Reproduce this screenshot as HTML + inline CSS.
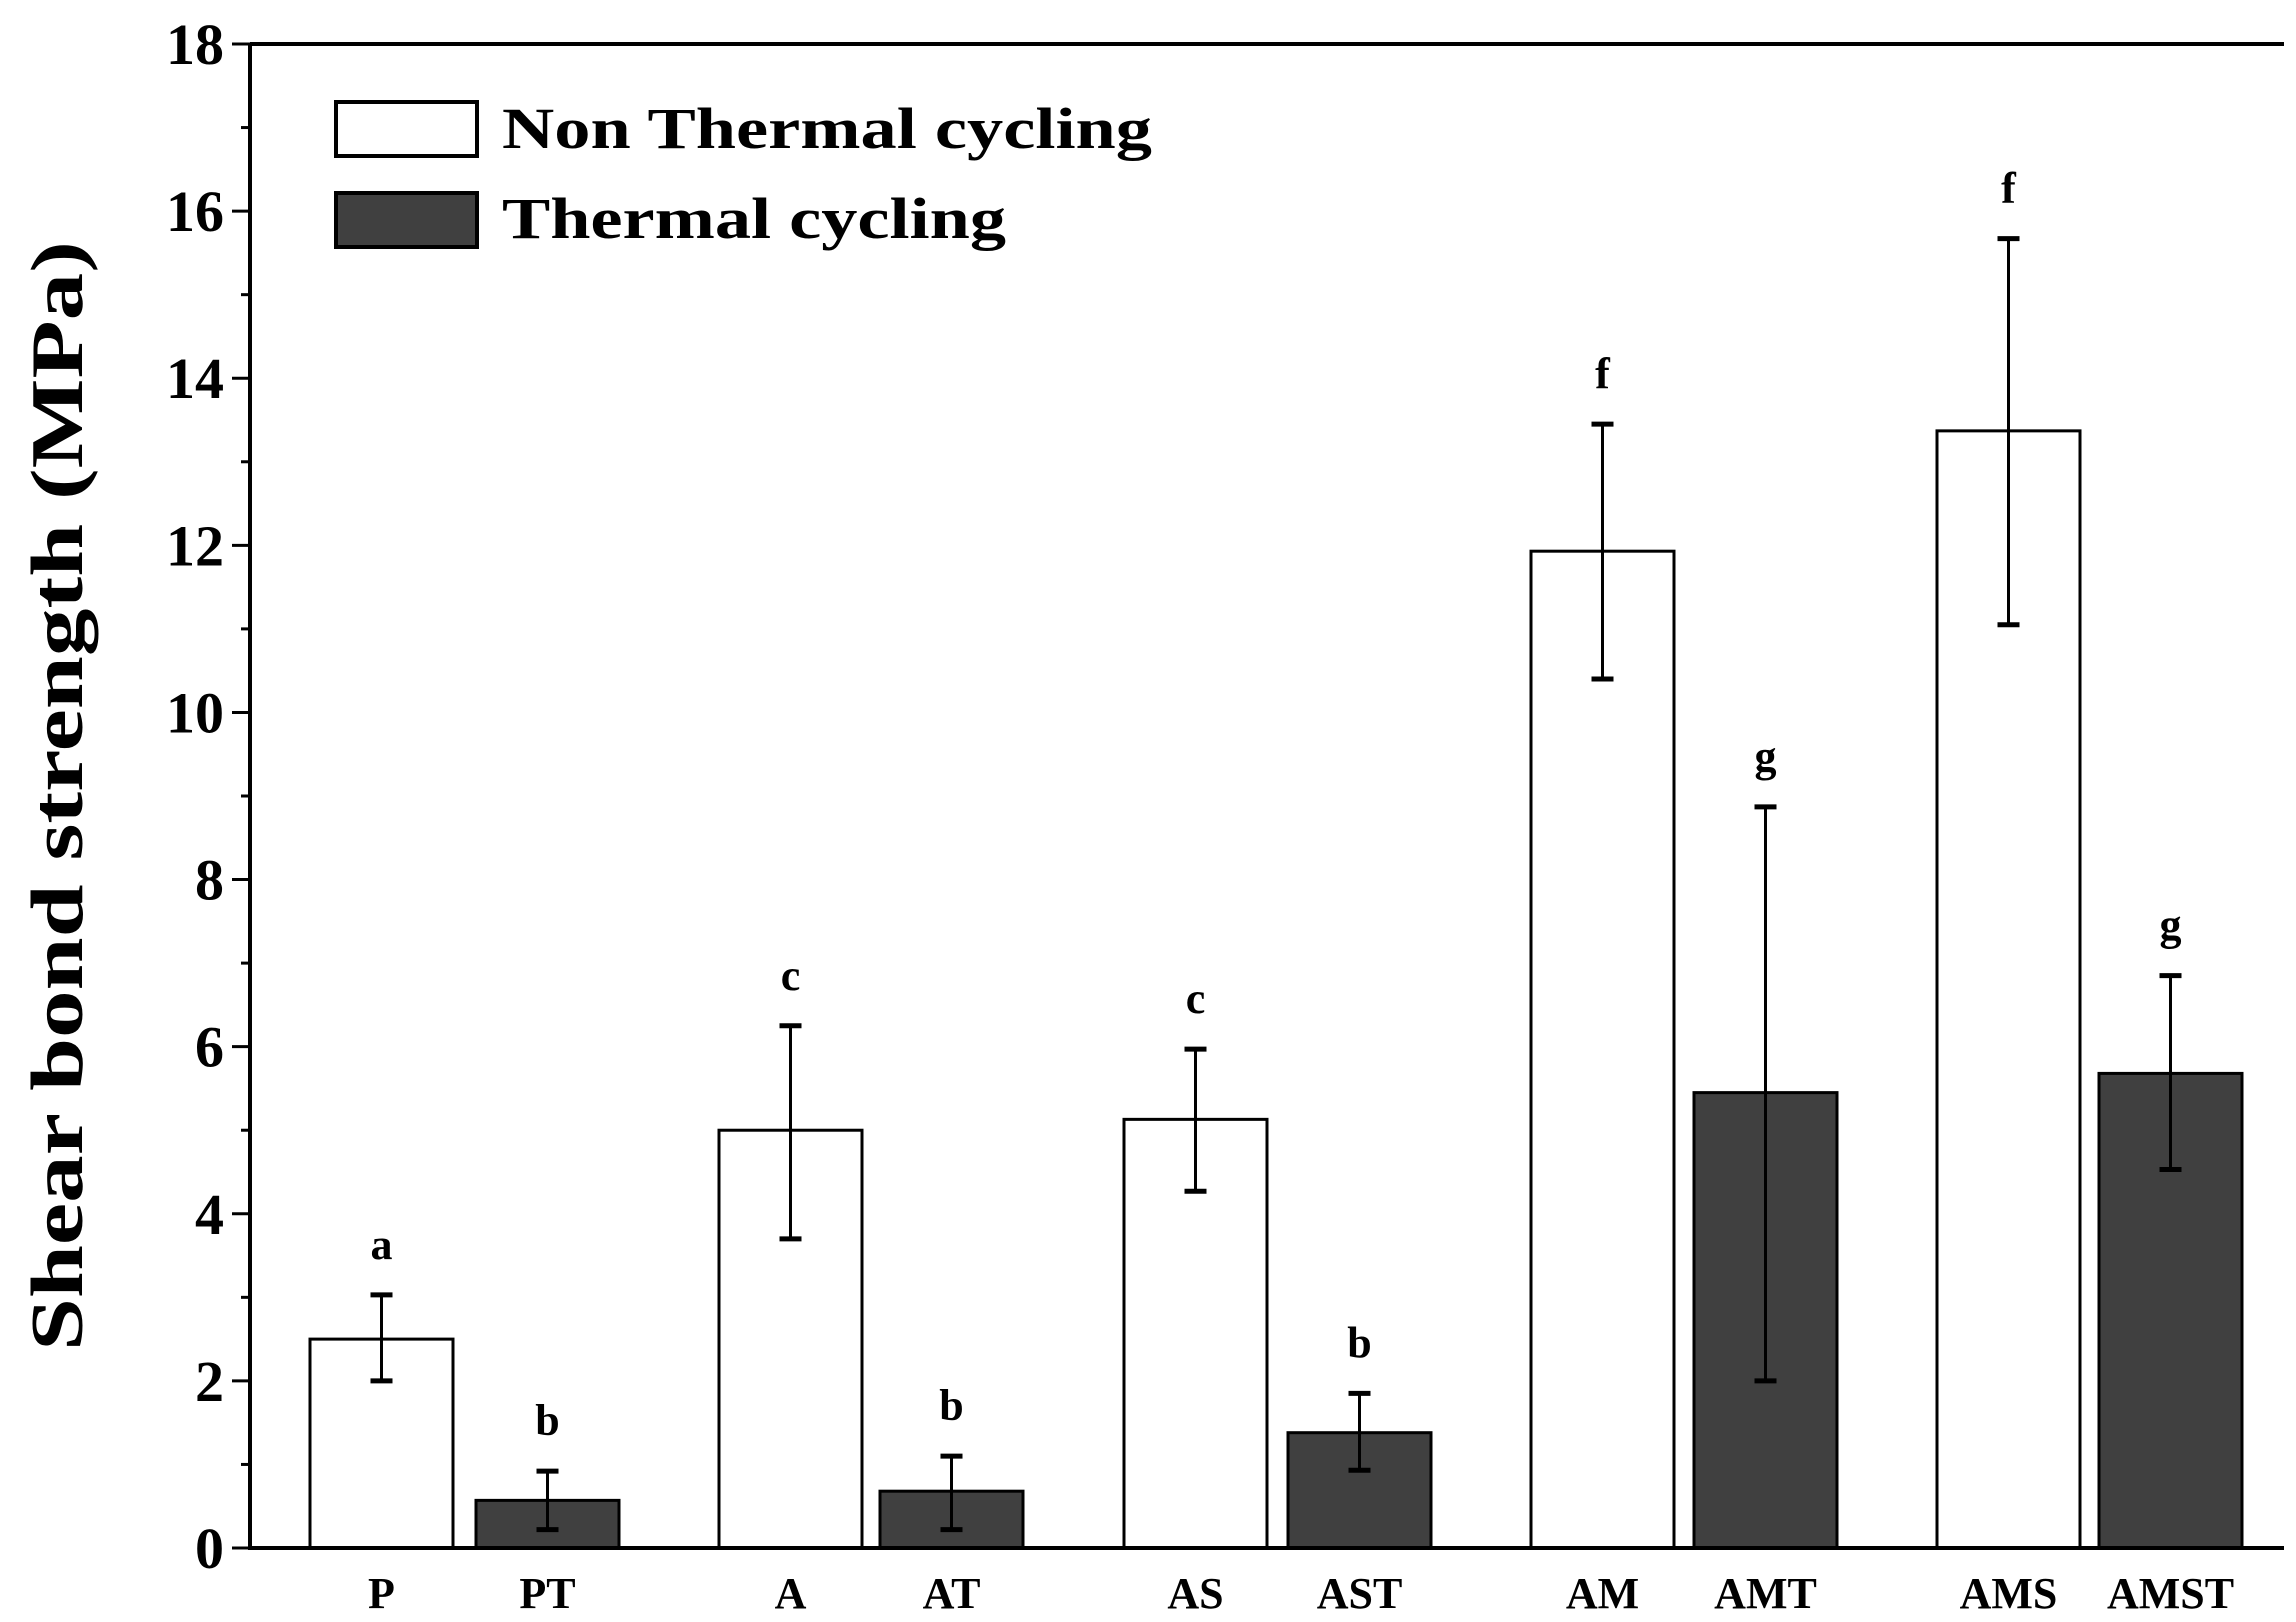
<!DOCTYPE html>
<html><head><meta charset="utf-8"><style>body{margin:0;background:#fff}svg{display:block}text{font-family:"Liberation Serif",serif;font-weight:bold;fill:#000}</style></head>
<body>
<svg id="chart" width="2296" height="1622" viewBox="0 0 2296 1622">
<g id="plot"></g>
<text x="0" y="0" transform="translate(82,796) rotate(-90)" text-anchor="middle" font-size="74" textLength="1110" lengthAdjust="spacingAndGlyphs">Shear bond strength (MPa)</text>
<g>
<rect x="336" y="102" width="141" height="54" fill="#fff" stroke="#000" stroke-width="4"/>
<text x="502" y="148" font-size="58" textLength="650" lengthAdjust="spacingAndGlyphs">Non Thermal cycling</text>
<rect x="336" y="193" width="141" height="54" fill="#404040" stroke="#000" stroke-width="4"/>
<text x="502" y="238" font-size="58" textLength="504" lengthAdjust="spacingAndGlyphs">Thermal cycling</text>
</g>
</svg>
<script>
const categories=["P","PT","A","AT","AS","AST","AM","AMT","AMS","AMST"];
const values=[2.5,0.57,5.0,0.68,5.13,1.38,11.93,5.45,13.37,5.68];
const errLow=[2.0,0.22,3.7,0.22,4.27,0.93,10.4,2.0,11.05,4.53];
const errHigh=[3.03,0.92,6.25,1.1,5.97,1.85,13.45,8.87,15.67,6.85];
const letters=["a","b","c","b","c","b","f","g","f","g"];
const thermal=[false,true,false,true,false,true,false,true,false,true];
const barLeft=[310,476,719,880,1124,1288,1531,1694,1937,2099];
const yTicks=[0,2,4,6,8,10,12,14,16,18];
const L=250,R=2284,T=44,B=1548,yMax=18;
const y=v=>B-(v/yMax)*(B-T);
const NS="http://www.w3.org/2000/svg";
const g=document.getElementById('plot');
function mk(t,a){const e=document.createElementNS(NS,t);for(const k in a)e.setAttribute(k,a[k]);g.appendChild(e);return e;}
const bw=143;
categories.forEach((c,i)=>{
 const x0=barLeft[i],cx=x0+bw/2;
 const r=mk('rect',{x:x0,y:y(values[i]),width:bw,height:B-y(values[i]),fill:thermal[i]?'#404040':'#fff',stroke:'#000','stroke-width':3});
 
 
 const e=mk('line',{x1:cx,x2:cx,y1:y(errLow[i]),y2:y(errHigh[i]),stroke:'#000','stroke-width':3});
 
 
 [errLow[i],errHigh[i]].forEach(v=>{const cap=mk('line',{x1:cx-11,x2:cx+11,y1:y(v),y2:y(v),stroke:'#000','stroke-width':5});
 
 });
 const lt=mk('text',{x:cx,y:y(errHigh[i])-36,'text-anchor':'middle','font-size':44});
 lt.textContent=letters[i];
 
 
 const xl=mk('text',{x:cx,y:1608,'text-anchor':'middle','font-size':44});
 xl.textContent=c;
 
 
});
const ax=mk('path',{d:`M${L},${T} L${R},${T} M${L},${T} L${L},${B} L${R},${B}`,fill:'none',stroke:'#000','stroke-width':4});


for(let v=0;v<=yMax;v++){
 const major=v%2===0;
 const tk=mk('line',{x1:L-(major?18:9),x2:L,y1:y(v),y2:y(v),stroke:'#000','stroke-width':3});
 
 
}
yTicks.forEach(v=>{
 const t=mk('text',{x:L-26,y:y(v)+20,'text-anchor':'end','font-size':58});
 t.textContent=v;
 
 
});
</script>
</body></html>
